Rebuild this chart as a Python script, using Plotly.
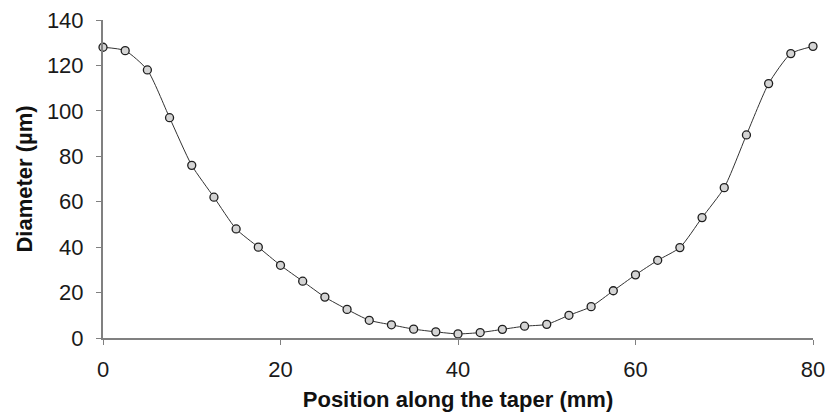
import plotly.graph_objects as go

# Fibre taper profile: diameter measured every 2.5 mm along the taper
position_mm = [0, 2.5, 5, 7.5, 10, 12.5, 15, 17.5, 20, 22.5, 25, 27.5, 30, 32.5,
               35, 37.5, 40, 42.5, 45, 47.5, 50, 52.5, 55, 57.5, 60, 62.5, 65,
               67.5, 70, 72.5, 75, 77.5, 80]
diameter_um = [128, 126.5, 118, 97, 76, 62, 48, 40, 32, 25, 18, 12.6, 7.8, 5.8,
               3.9, 2.7, 1.8, 2.4, 3.8, 5.2, 6, 10, 13.8, 20.8, 27.8, 34.2, 39.8,
               53, 66.2, 89.4, 112, 125.2, 128.4]

x_ticks = [0, 20, 40, 60, 80]
y_ticks = [0, 20, 40, 60, 80, 100, 120, 140]

tick_font = dict(family="Liberation Sans, Arial, sans-serif", size=22, color="#1a1a1a")
title_font = dict(family="Liberation Sans, Arial, sans-serif", size=22, color="#111111")

fig = go.Figure()
fig.add_trace(go.Scatter(
    x=position_mm,
    y=diameter_um,
    mode="lines+markers",
    line=dict(shape="spline", smoothing=0.6, color="#333333", width=1),
    marker=dict(symbol="circle", size=8, color="#d4d4d4",
                line=dict(color="#1e1e1e", width=1.3)),
    showlegend=False,
    cliponaxis=False,
))

fig.update_layout(
    width=828,
    height=420,
    margin=dict(l=103, r=15, t=20, b=82, autoexpand=False),
    paper_bgcolor="white",
    plot_bgcolor="white",
    xaxis=dict(
        range=[0, 80],
        tickvals=x_ticks,
        ticks="outside",
        ticklen=5,
        tickcolor="#808080",
        ticklabelstandoff=6,
        showline=True,
        linecolor="#808080",
        linewidth=2,
        showgrid=False,
        zeroline=False,
        automargin=False,
        tickfont=tick_font,
        title=dict(text="<b>Position along the taper (mm)</b>", font=title_font, standoff=10),
    ),
    yaxis=dict(
        range=[0, 140],
        tickvals=y_ticks,
        ticks="outside",
        ticklen=5,
        tickcolor="#808080",
        ticklabelstandoff=8,
        showline=True,
        linecolor="#808080",
        linewidth=2,
        showgrid=False,
        zeroline=False,
        automargin=False,
        tickfont=tick_font,
        title=dict(text="<b>Diameter (µm)</b>", font=title_font, standoff=8),
    ),
)

fig.write_html("out.html")
